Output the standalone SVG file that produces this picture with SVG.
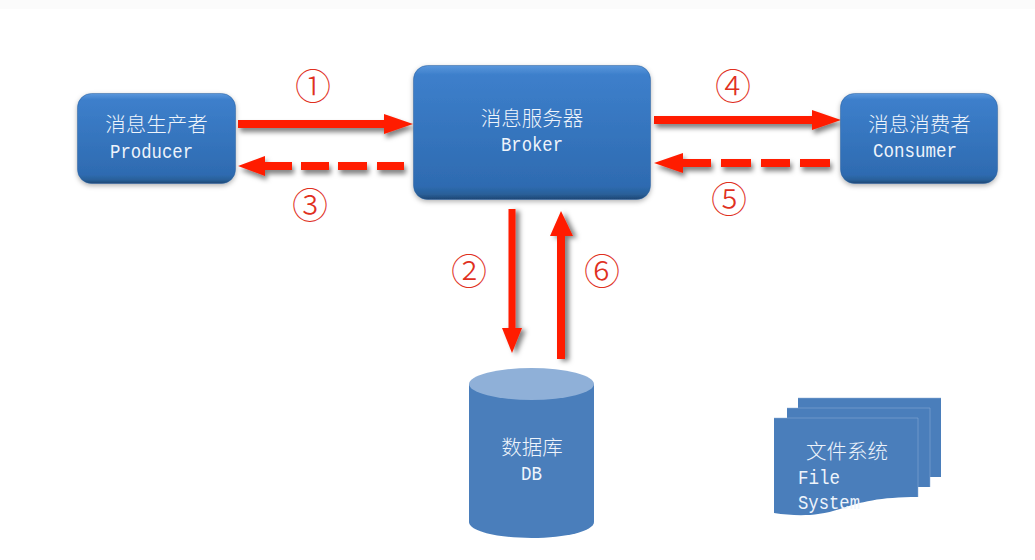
<svg xmlns="http://www.w3.org/2000/svg" width="1035" height="560" viewBox="0 0 1035 560">
<style>
.cn{font-family:"Noto Sans CJK SC","Noto Sans",sans-serif;font-size:20.5px;font-weight:300;fill:#eef4fb;text-anchor:middle}
.en{font-family:"Liberation Mono","Courier New",monospace;font-size:20px;fill:#eef4fb}
.num{font-family:"Noto Sans CJK SC","DejaVu Sans",sans-serif;font-size:36px;font-weight:300;fill:#e0301e;text-anchor:middle}
.box{fill:url(#boxFill);stroke:#2a5f9e;stroke-opacity:0.5;stroke-width:1;filter:url(#boxShadow)}
.flat{fill:#4a7ebb}
.arrow{fill:#ff1d00}
</style>
<defs>
<linearGradient id="boxFill" x1="0" y1="0" x2="0" y2="1">
<stop offset="0" stop-color="#5a97dc"/><stop offset="0.07" stop-color="#3d7fcb"/><stop offset="0.9" stop-color="#2e6bb1"/><stop offset="0.96" stop-color="#2a6099"/><stop offset="1" stop-color="#1d4673"/>
</linearGradient>
<filter id="boxShadow" x="-10%" y="-10%" width="120%" height="125%"><feDropShadow dx="0" dy="2" stdDeviation="2.500" flood-color="#000" flood-opacity="0.3"/></filter>
<filter id="arrowShadow" x="-10%" y="-60%" width="120%" height="240%"><feDropShadow dx="2" dy="4" stdDeviation="2.500" flood-color="#000" flood-opacity="0.5"/></filter>
<filter id="arrowShadowV" x="-100%" y="-10%" width="300%" height="120%"><feDropShadow dx="4" dy="2" stdDeviation="2.500" flood-color="#000" flood-opacity="0.5"/></filter>
</defs>
<rect width="1035" height="560" fill="#fff"/>
<rect width="1035" height="9" fill="#fbfbfb"/>
<g id="connectors">
<g id="c1" class="arrow" filter="url(#arrowShadow)"><path d="M238 120H384V114L413 124L384 134V128H238Z"/></g>
<g id="c3" class="arrow" filter="url(#arrowShadow)"><path d="M238 166L265 156V162H292V170H265V176Z"/><rect x="301" y="162" width="28" height="8"/><rect x="338" y="162" width="29" height="8"/><rect x="377" y="162" width="27" height="8"/></g>
<g id="c4" class="arrow" filter="url(#arrowShadow)"><path d="M654 116H812V110L841 120L812 130V124H654Z"/></g>
<g id="c5" class="arrow" filter="url(#arrowShadow)"><path d="M654 163L683 153V159H711V167H683V173Z"/><rect x="721" y="159" width="30" height="8"/><rect x="761" y="159" width="29" height="8"/><rect x="800" y="159" width="30" height="8"/></g>
<g id="c2" class="arrow" filter="url(#arrowShadowV)"><path d="M508.500 209H515.500V328H522L512 353L502 328H508.500Z"/></g>
<g id="c6" class="arrow" filter="url(#arrowShadowV)"><path d="M557 359V236H550L561 211L573 236H565V359Z"/></g>
</g>
<g id="producer"><rect class="box" x="77.500" y="93.500" width="158" height="90" rx="14"/><text class="cn" x="156.500" y="132">消息生产者</text><text class="en" x="110" y="158" textLength="83" lengthAdjust="spacingAndGlyphs">Producer</text></g>
<g id="broker"><rect class="box" x="413.500" y="65.500" width="237" height="134" rx="14"/><text class="cn" x="532" y="126">消息服务器</text><text class="en" x="501" y="151" textLength="62" lengthAdjust="spacingAndGlyphs">Broker</text></g>
<g id="consumer"><rect class="box" x="840.500" y="93.500" width="157" height="90" rx="14"/><text class="cn" x="919.500" y="132">消息消费者</text><text class="en" x="873" y="157" textLength="84" lengthAdjust="spacingAndGlyphs">Consumer</text></g>
<g id="db"><path class="flat" d="M469 384V522C469 531 497 538 531.500 538S594 531 594 522V384Z"/><ellipse cx="531.500" cy="384" rx="62.500" ry="16" fill="#8fb0d8"/><text class="cn" x="532" y="455">数据库</text><text class="en" x="521" y="480" textLength="21" lengthAdjust="spacingAndGlyphs">DB</text></g>
<g id="filesystem"><path class="flat" d="M798 398H941V477H930V487H918V497C880 497 860 502 840 509C815 517 795 516 774 513V418H787V408H798Z"/><path d="M798 398H941M787 408H930M774 418H918V497M930 408V487" fill="none" stroke="#8fb0d8" stroke-width="1" stroke-opacity="0.5"/><text class="cn" x="847" y="459">文件系统</text><text class="en" x="798" y="484" textLength="42" lengthAdjust="spacingAndGlyphs">File</text><text class="en" x="798" y="509" textLength="62" lengthAdjust="spacingAndGlyphs">System</text></g>
<g id="labels"><text class="num" x="313" y="100">①</text><text class="num" x="310" y="219">③</text><text class="num" x="733" y="100">④</text><text class="num" x="729" y="213">⑤</text><text class="num" x="469" y="285">②</text><text class="num" x="602" y="285">⑥</text></g>
</svg>
